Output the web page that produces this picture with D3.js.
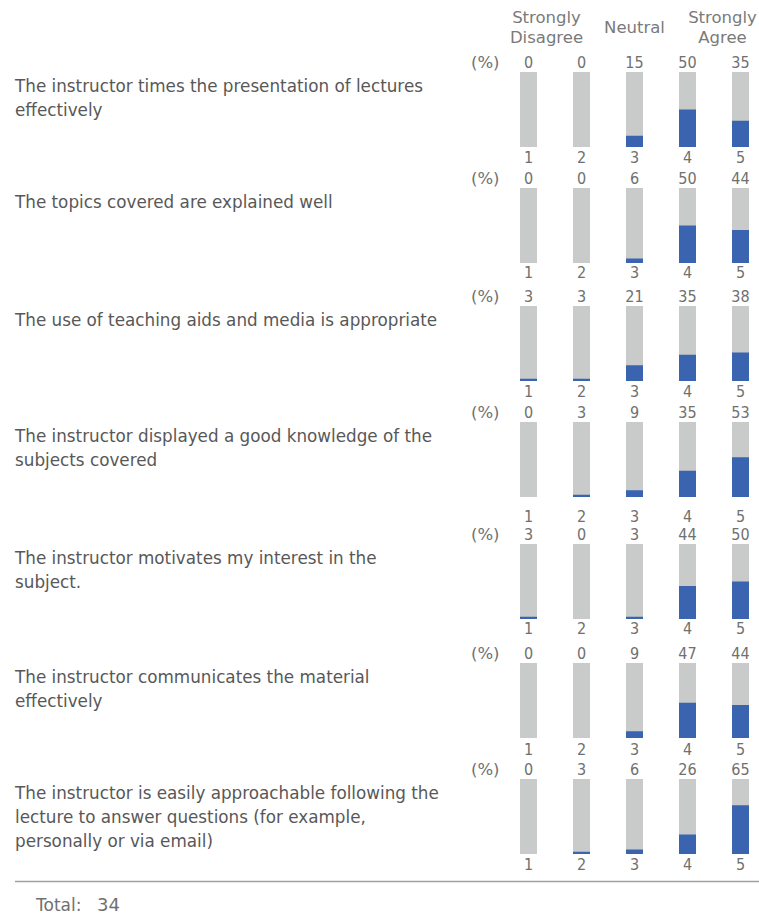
<!DOCTYPE html>
<html>
<head>
<meta charset="utf-8">
<script src="https://cdn.jsdelivr.net/npm/d3@7"></script>
<style>
  body { margin: 0; background: #fff; }
  text { font-family: "DejaVu Sans", sans-serif; }
  .num { font-family: "DejaVu Sans Condensed", "DejaVu Sans", sans-serif; }
</style>
</head>
<body>
<div id="chart"></div>
<script>
// survey questions (already wrapped as in the original)
var questions = [
  ["The instructor times the presentation of lectures", "effectively"],
  ["The topics covered are explained well"],
  ["The use of teaching aids and media is appropriate"],
  ["The instructor displayed a good knowledge of the", "subjects covered"],
  ["The instructor motivates my interest in the", "subject."],
  ["The instructor communicates the material", "effectively"],
  ["The instructor is easily approachable following the", "lecture to answer questions (for example,", "personally or via email)"]
];

// answer scale 1..5 and the header words above it
var scaleValues = [1, 2, 3, 4, 5];
var headerText = [["Strongly", "Disagree"], ["Neutral"], ["Strongly", "Agree"]];
var headerAt = [1, 3, 5];

// percentages per question, for answers 1..5
var percents = [
  [0, 0, 15, 50, 35],
  [0, 0, 6, 50, 44],
  [3, 3, 21, 35, 38],
  [0, 3, 9, 35, 53],
  [3, 0, 3, 44, 50],
  [0, 0, 9, 47, 44],
  [0, 3, 6, 26, 65]
];

var total = 34;

// layout
var width = 759, height = 915;
var rowTops = [72, 188, 306, 422, 544, 663, 779];
var bottomGap = [10.5, 9, 10.5, 19, 9, 11, 10.5];
var barH = 75, barW = 17;

var svg = d3.select("#chart")
  .append("svg")
    .attr("width", width)
    .attr("height", height);

var x = d3.scalePoint()
  .domain(scaleValues)
  .range([528.5, 740.5]);

var numColor = "#707070";

// header
var headerNudge = [18, 0, -18];
headerText.forEach(function(lines, i) {
  var cx = x(headerAt[i]) + headerNudge[i];
  var y0 = lines.length == 2 ? 17 : 27;
  lines.forEach(function(l, j) {
    svg.append("text")
      .attr("x", cx)
      .attr("y", y0 + j * 20)
      .attr("dy", "0.35em")
      .attr("text-anchor", "middle")
      .attr("font-size", 16.5)
      .attr("fill", "#7a7a7a")
      .text(l);
  });
});

percents.forEach(function(row, r) {
  var top = rowTops[r];
  var y = d3.scaleLinear().domain([0, 100]).range([top + barH, top]);
  var g = svg.append("g");

  // question label
  questions[r].forEach(function(line, j) {
    g.append("text")
      .attr("x", 15)
      .attr("y", top + 14 + j * 24)
      .attr("dy", "0.35em")
      .attr("font-size", 16.8)
      .attr("fill", "#585858")
      .text(line);
  });

  g.append("text")
    .attr("x", 471)
    .attr("y", top - 9.5)
    .attr("dy", "0.35em")
    .attr("font-size", 16.5)
    .attr("fill", numColor)
    .text("(%)");

  // background bars
  g.selectAll(".bg")
    .data(scaleValues)
    .enter().append("rect")
      .attr("x", function(d) { return x(d) - barW / 2; })
      .attr("y", y(100))
      .attr("width", barW)
      .attr("height", y(0) - y(100))
      .attr("fill", "#c9cbca");

  // value bars
  g.selectAll(".val")
    .data(row)
    .enter().append("rect")
      .attr("x", function(d, i) { return x(scaleValues[i]) - barW / 2; })
      .attr("y", function(d) { return y(d); })
      .attr("width", barW)
      .attr("height", function(d) { return y(0) - y(d); })
      .attr("fill", "#3a64b0");

  // percent labels on top
  g.selectAll(".pct")
    .data(row)
    .enter().append("text")
      .attr("class", "num")
      .attr("x", function(d, i) { return x(scaleValues[i]); })
      .attr("y", top - 9.5)
      .attr("dy", "0.35em")
      .attr("text-anchor", "middle")
      .attr("font-size", 16)
      .attr("fill", numColor)
      .text(function(d) { return d; });

  // scale labels below
  g.selectAll(".sc")
    .data(scaleValues)
    .enter().append("text")
      .attr("class", "num")
      .attr("x", function(d) { return x(d); })
      .attr("y", top + barH + bottomGap[r])
      .attr("dy", "0.35em")
      .attr("text-anchor", "middle")
      .attr("font-size", 16)
      .attr("fill", numColor)
      .text(function(d) { return d; });
});

// footer rule and total
svg.append("line")
  .attr("x1", 15).attr("x2", width)
  .attr("y1", 881.5).attr("y2", 881.5)
  .attr("stroke", "#a0a0a0")
  .attr("stroke-width", 1.5);

svg.append("text")
  .attr("x", 36)
  .attr("y", 905)
  .attr("dy", "0.35em")
  .attr("font-size", 17)
  .attr("fill", numColor)
  .text("Total:");

svg.append("text")
  .attr("x", 97)
  .attr("y", 905)
  .attr("dy", "0.35em")
  .attr("font-size", 18)
  .attr("fill", numColor)
  .text(total);
</script>
</body>
</html>
